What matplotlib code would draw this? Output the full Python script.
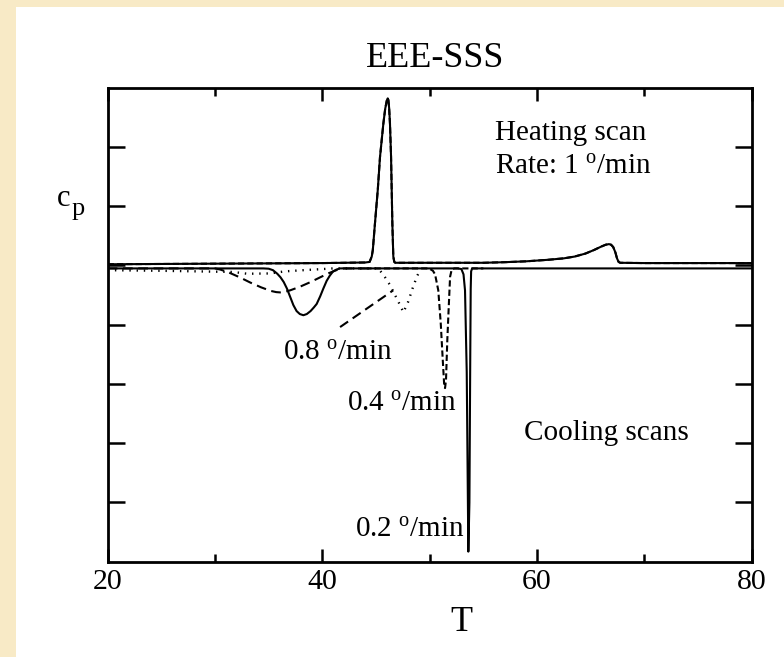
import matplotlib
matplotlib.use("Agg")
import matplotlib.pyplot as plt
from matplotlib.patches import Rectangle

plt.rcParams['font.family'] = ['Liberation Serif', 'DejaVu Serif']
plt.rcParams['mathtext.fontset'] = 'custom'
plt.rcParams['mathtext.rm'] = 'Liberation Serif'
plt.rcParams['mathtext.it'] = 'Liberation Serif:italic'
plt.rcParams['lines.scale_dashes'] = False

# heating scan, 1 deg/min (solid and dashed runs lie on top of each other)
heatT = [20, 30, 40, 44.0, 44.4, 44.6, 44.7, 44.9, 45.16, 45.37, 45.68, 45.85, 46.0, 46.09,
         46.15, 46.22, 46.3, 46.4, 46.46, 46.52, 46.61, 46.7, 46.8, 50, 55, 57, 59, 61, 62.5,
         63.5, 64.5, 65.3, 66.0, 66.4, 66.7, 66.9, 67.1, 67.3, 67.45, 67.6, 67.75, 70, 80]
heatCp = [0.02, 0.03, 0.04, 0.05, 0.06, 0.15, 0.26, 0.71, 1.27, 1.83, 2.39, 2.64, 2.78, 2.82,
          2.79, 2.66, 2.39, 1.83, 1.27, 0.71, 0.15, 0.06, 0.045, 0.045, 0.045, 0.055, 0.07, 0.095,
          0.12, 0.15, 0.2, 0.26, 0.32, 0.35, 0.36, 0.35, 0.31, 0.22, 0.12, 0.06, 0.045, 0.04, 0.04]

# cooling scans
coolSolidT = [20, 34.5, 35.0, 35.4, 35.8, 36.1, 36.4, 36.7, 37.0, 37.3, 37.6, 37.9, 38.23,
              38.55, 38.9, 39.2, 39.47, 39.8, 40.09, 40.4, 40.7, 41.0, 41.3, 41.65,
              52.6, 52.95, 53.15, 53.29, 53.45, 53.6, 53.7, 53.78, 53.82, 53.86, 53.95, 80]
coolSolidCp = [-0.05, -0.05, -0.055, -0.08, -0.14, -0.2, -0.28, -0.39, -0.53, -0.67, -0.77,
               -0.82, -0.84, -0.82, -0.77, -0.71, -0.65, -0.52, -0.39, -0.26, -0.17, -0.1,
               -0.07, -0.05,
               -0.05, -0.06, -0.15, -0.42, -1.8, -4.83, -4.0, -1.5, -0.4, -0.1, -0.05, -0.05]

coolShortT = [44, 49.7, 50.03, 50.3, 50.5, 50.8, 51.03, 51.2, 51.36, 51.43, 51.52, 51.64,
              51.8, 51.9, 52.05, 52.3, 55]
coolShortCp = [-0.05, -0.05, -0.06, -0.09, -0.15, -0.42, -0.98, -1.54, -2.05, -2.07, -1.93,
               -1.26, -0.59, -0.19, -0.07, -0.05, -0.05]

coolLongT = [20, 30.0, 30.5, 31.3, 32.3, 33.3, 34.3, 35.2, 35.7, 36.06, 36.5, 37.0, 37.9,
             38.9, 39.8, 40.6, 41.3, 42.0, 44]
coolLongCp = [-0.05, -0.05, -0.07, -0.12, -0.2, -0.29, -0.37, -0.43, -0.45, -0.455, -0.445,
              -0.42, -0.36, -0.28, -0.2, -0.13, -0.08, -0.05, -0.05]

coolDotT = [20, 25, 31.7, 33, 35.1, 36.5, 38.2, 40.1, 41, 45.2, 45.7, 46.3, 46.77, 47.24,
            47.55, 48.0, 48.4, 48.8, 48.95]
coolDotCp = [-0.08, -0.09, -0.11, -0.14, -0.135, -0.1, -0.08, -0.06, -0.05, -0.05, -0.16,
             -0.33, -0.5, -0.67, -0.79, -0.61, -0.39, -0.19, -0.135]

# pointer line drawn from the 0.8 label
leaderT = [41.65, 46.6]
leaderCp = [-1.04, -0.42]

xTicks = [20, 40, 60, 80]
xMinor = [30, 50, 70]
yTicks = [-4, -3, -2, -1, 0, 1, 2]

W, H = 784, 657
fig = plt.figure(figsize=(W / 100, H / 100), dpi=100)
fig.patch.set_facecolor('#f8eac6')
fig.add_artist(Rectangle((16 / W, 0), 1 - 16 / W, 1 - 7 / H, transform=fig.transFigure,
                         facecolor='white', edgecolor='none', zorder=0))

ax = fig.add_axes([107.7 / W, 1 - 561.7 / H, 644 / W, 474 / H])
ax.set_xlim(20, 80)
ax.set_ylim(-5, 3)

lw = 1.5
longDash = (0, (7, 4))
shortDash = (0, (4.5, 2.2))
dotStyle = (0, (1, 4.2))

ax.plot(heatT, heatCp, color='black', lw=lw)
ax.plot(heatT, heatCp, color='black', lw=lw, linestyle=shortDash)
ax.plot(coolSolidT, coolSolidCp, color='black', lw=lw)
ax.plot(coolShortT, coolShortCp, color='black', lw=lw, linestyle=shortDash)
ax.plot(coolLongT, coolLongCp, color='black', lw=lw, linestyle=longDash)
ax.plot(coolDotT, coolDotCp, color='black', lw=1.7, linestyle=dotStyle)
ax.plot(leaderT, leaderCp, color='black', lw=lw, linestyle=longDash)

for s in ax.spines.values():
    s.set_linewidth(2.0)

ax.set_xticks(xTicks)
ax.set_xticks(xMinor, minor=True)
ax.set_yticks(yTicks)
ax.set_yticklabels([])
ax.tick_params(axis='x', which='major', direction='in', length=9.5, width=1.8,
               top=True, labelsize=21.5, pad=5)
ax.tick_params(axis='x', which='minor', direction='in', length=6, width=1.8, top=True)
ax.tick_params(axis='y', which='major', direction='in', length=12, width=1.8, right=True)

txt = dict(fontsize=21, ha='left', va='baseline')
ax.text(56.1, 2.125, 'Heating scan', **txt)
ax.text(56.1, 1.55, r'Rate: 1 $^{\mathrm{o}}$/min', **txt)
ax.text(58.8, -2.946, 'Cooling scans', **txt)
ax.text(36.3, -1.585, r'0.8 $^{\mathrm{o}}$/min', **txt)
ax.text(42.27, -2.452, r'0.4 $^{\mathrm{o}}$/min', **txt)
ax.text(43.04, -4.587, r'0.2 $^{\mathrm{o}}$/min', **txt)

fig.text(435 / W, 1 - 67.3 / H, 'EEE-SSS', fontsize=26, ha='center', va='baseline')
fig.text(461 / W, 1 - 631 / H, 'T', fontsize=26, ha='center', va='baseline')
fig.text(56.5 / W, 1 - 206 / H, 'c', fontsize=22, ha='left', va='baseline')
fig.text(72 / W, 1 - 215 / H, 'p', fontsize=19, ha='left', va='baseline')

fig.savefig('out.png', dpi=100)
